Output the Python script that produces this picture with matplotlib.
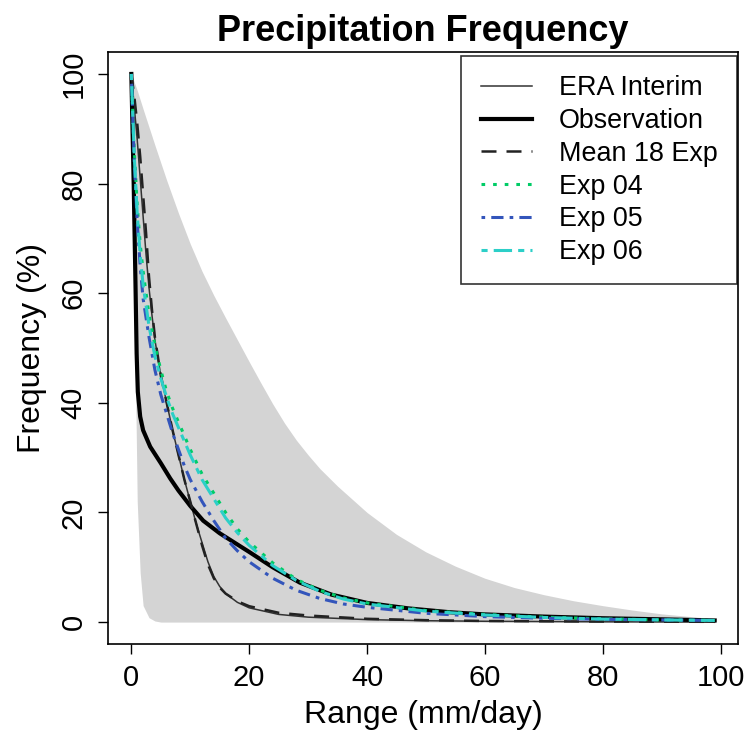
import matplotlib.pyplot as plt

plt.rcParams["font.family"] = ["Liberation Sans", "DejaVu Sans"]

# grey envelope of the experiments
band_x = [0, 0.5, 1, 1.5, 2, 3, 4, 5, 6, 8, 10, 12, 14, 16, 18, 20, 22, 24, 26, 28, 30, 32, 35,
          40, 45, 50, 55, 60, 65, 70, 75, 80, 85, 90, 95, 99]
band_upper = [100, 98.5, 97, 95.3, 93.6, 90.3, 87, 83.8, 80.6, 74.6, 69, 64, 59.6, 55.5, 51.5, 47.5, 43.6, 39.8, 36.3, 33.2, 30.5, 28, 24.8,
              20, 16, 12.8, 10.2, 8, 6.3, 5, 3.9, 3, 2.2, 1.5, 1, 0.6]
band_lower = [100, 60, 22, 9, 3, 0.8, 0.2, 0, 0, 0, 0, 0, 0, 0, 0, 0, 0, 0, 0, 0, 0, 0, 0,
              0, 0, 0, 0, 0, 0, 0, 0, 0, 0, 0, 0, 0]

obs_x = [0, 0.4, 0.7, 0.9, 1.1, 1.5, 2, 3.2, 5, 6.6, 8, 10, 12.2, 15, 17.5, 20, 24, 28.6, 34,
         40, 47, 54, 60, 70, 80, 90, 99]
obs_y = [100, 80, 62, 49, 42, 37.5, 35, 32, 29, 26.2, 24, 21.2, 18.5, 16.2, 14.5, 12.8, 10, 7.2, 5,
         3.5, 2.5, 1.8, 1.4, 1, 0.7, 0.5, 0.3]

era_x = [0, 0.5, 1, 1.5, 2, 2.5, 3, 3.5, 4, 5, 6, 7, 8, 9, 10, 11, 12, 13, 14, 15, 16, 18, 20,
         25, 30, 40, 50, 60, 80, 99]
era_y = [100, 94, 88, 81, 74, 67, 61, 56, 51.5, 45, 40, 35, 30.5, 26, 22, 18, 14.5, 11, 8.3, 6.5, 5.2, 3.6, 2.6,
         1.4, 0.9, 0.45, 0.25, 0.15, 0.05, 0]

mean_x = [0, 0.5, 1, 1.5, 2, 2.5, 3, 3.5, 4, 5, 6, 7, 8, 9, 10, 11, 12, 13, 14, 15, 16, 18, 20,
          25, 30, 40, 50, 60, 80, 99]
mean_y = [100, 96, 91, 85, 78, 71, 63, 57, 52, 45, 40, 35, 30.5, 26, 22, 18, 14, 10.5, 8, 6.3, 5.2, 3.8, 2.9,
          1.7, 1.2, 0.6, 0.35, 0.2, 0.1, 0.05]

exp_x = [0, 0.5, 1, 1.5, 2, 3, 4, 5, 6, 7, 8, 9, 10, 12, 14, 16, 18, 20, 24, 28, 32, 36, 40,
         50, 60, 70, 80, 90, 99]
exp04_y = [100, 86, 76, 69, 64, 56, 50.5, 46, 42, 39, 36.5, 34, 31.5, 27, 23.5, 20, 17, 14.6, 10.8, 7.8, 5.8, 4.4, 3.5,
           2.1, 1.4, 0.9, 0.6, 0.4, 0.3]
exp05_y = [100, 84, 73, 65, 59, 52, 46, 41.5, 38, 34.5, 31.5, 28.5, 26, 22, 18.5, 15.3, 13, 11, 8, 5.8, 4.3, 3.3, 2.7,
           1.6, 1, 0.7, 0.5, 0.4, 0.3]
exp06_y = [100, 85, 74.5, 67, 61.5, 54, 48.5, 44.5, 41, 38, 35.5, 33, 30.5, 26, 22.5, 19, 16.3, 14, 10.3, 7.6, 5.6, 4.2, 3.3,
           2, 1.3, 0.85, 0.55, 0.4, 0.3]

fig = plt.figure(figsize=(7.5, 7.34), dpi=100)
ax = fig.add_axes([0.144, 0.1226, 0.84, 0.8065])

ax.fill_between(band_x, band_lower, band_upper, color="#d4d4d4", linewidth=0)

ax.plot(era_x, era_y, color="#333333", lw=1.1, label="ERA Interim")
ax.plot(obs_x, obs_y, color="black", lw=3.0, label="Observation")
ax.plot(mean_x, mean_y, color="#222222", lw=1.8, ls=(0, (6, 4)), label="Mean 18 Exp")
ax.plot(exp_x, exp04_y, color="#00cc66", lw=2.2, ls=(0, (1.2, 2.6)), label="Exp 04")
ax.plot(exp_x, exp05_y, color="#3355bb", lw=2.2, ls=(0, (1.2, 2, 4, 2)), label="Exp 05")
ax.plot(exp_x, exp06_y, color="#2ccfc8", lw=2.2, ls=(0, (2, 2, 6, 2)), label="Exp 06")

ax.set_xlim(-3.96, 102.96)
ax.set_ylim(-4, 104)
ax.set_xticks([0, 20, 40, 60, 80, 100])
ax.set_yticks([0, 20, 40, 60, 80, 100])
ax.tick_params(labelsize=21, length=7.5, width=1, direction="out", pad=7)
for lbl in ax.get_yticklabels():
    lbl.set_rotation(90)
    lbl.set_va("center")
for spine in ax.spines.values():
    spine.set_linewidth(1.2)

ax.set_xlabel("Range (mm/day)", fontsize=23, labelpad=6)
ax.set_ylabel("Frequency (%)", fontsize=23, labelpad=9)
ax.set_title("Precipitation Frequency", fontsize=26, fontweight="bold", pad=8)

leg = ax.legend(loc="upper right", bbox_to_anchor=(737 / 750, 1 - 56 / 734),
                bbox_transform=fig.transFigure, borderaxespad=0,
                fontsize=19.4, frameon=True, fancybox=False, edgecolor="black",
                handlelength=1.9, handletextpad=1.0, labelspacing=0.25, borderpad=0.72)
leg.get_frame().set_linewidth(1.2)

fig.savefig("out.png", dpi=100)
